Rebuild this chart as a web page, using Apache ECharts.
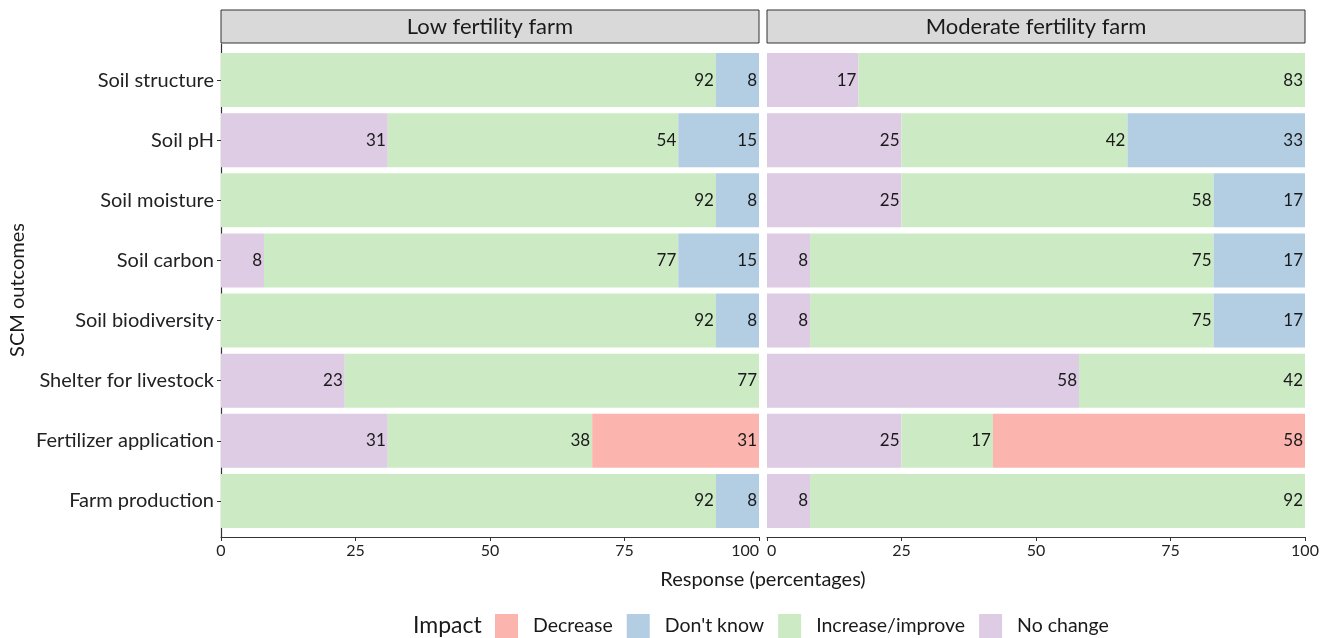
<!DOCTYPE html>
<html>
<head>
<meta charset="utf-8">
<script src="https://cdn.jsdelivr.net/npm/echarts@6/dist/echarts.min.js"></script>
<style>
html,body{margin:0;padding:0;background:#fff;}
#chart{width:1325px;height:638px;}
</style>
</head>
<body>
<div id="chart"></div>
<script>
const categories = ['Soil structure','Soil pH','Soil moisture','Soil carbon','Soil biodiversity','Shelter for livestock','Fertilizer application','Farm production'];
const panels = ['Low fertility farm','Moderate fertility farm'];
const xTicks = [0,25,50,75,100];
const legendOrder = ['Decrease',"Don't know",'Increase/improve','No change'];

// Low fertility farm
const lowNoChange = [0,31,0,8,0,23,31,0];
const lowIncrease = [92,54,92,77,92,77,38,92];
const lowDecrease = [0,0,0,0,0,0,31,0];
const lowDontKnow = [8,15,8,15,8,0,0,8];
// Moderate fertility farm
const modNoChange = [17,25,25,8,8,58,25,8];
const modIncrease = [83,42,58,75,75,42,17,92];
const modDecrease = [0,0,0,0,0,0,58,0];
const modDontKnow = [0,33,17,17,17,0,0,0];

const colors = {'Decrease':'#FBB4AE',"Don't know":'#B3CDE3','Increase/improve':'#CCEBC5','No change':'#DECBE4'};
const FONT = 'Lato';
const panelLeft = [221,767], panelW = 538;
const frameTop = 44, frameH = 493, barTop = 50, barH = 481;

const chart = echarts.init(document.getElementById('chart'));

const grids = [], xAxes = [], yAxes = [], series = [];
panels.forEach((p,i)=>{
  grids.push({left:panelLeft[i], top:barTop, width:panelW, height:barH});
  grids.push({left:panelLeft[i], top:frameTop, width:panelW, height:frameH});
  xAxes.push({gridIndex:2*i, type:'value', min:0, max:100, show:false});
  xAxes.push({gridIndex:2*i+1, type:'value', min:xTicks[0], max:xTicks[xTicks.length-1], interval:25,
    axisLine:{show:true, lineStyle:{color:'#333', width:1.2}},
    axisTick:{show:true, length:4, lineStyle:{color:'#333'}},
    axisLabel:{show:true, color:'#222', fontSize:16, fontFamily:FONT, margin:6, hideOverlap:false,
      showMinLabel:true, showMaxLabel:true,
      alignMinLabel: i===1 ? 'left' : 'center',
      alignMaxLabel: i===0 ? 'right' : 'center'},
    splitLine:{show:false}});
  yAxes.push({gridIndex:2*i, type:'category', data:categories, inverse:true,
    axisLine:{show:false},
    axisTick:{show:i===0, length:4, alignWithLabel:true, lineStyle:{color:'#333'}},
    axisLabel:{show:i===0, color:'#222', fontSize:20, fontFamily:FONT, margin:7}});
  yAxes.push({gridIndex:2*i+1, type:'value', min:0, max:1,
    axisLine:{show:i===0, lineStyle:{color:'#333', width:1.2}},
    axisTick:{show:false}, axisLabel:{show:false}, splitLine:{show:false}});
});

const panelData = [
  {'No change':lowNoChange,'Increase/improve':lowIncrease,'Decrease':lowDecrease,"Don't know":lowDontKnow},
  {'No change':modNoChange,'Increase/improve':modIncrease,'Decrease':modDecrease,"Don't know":modDontKnow}
];
const stackOrder = ['No change','Increase/improve','Decrease',"Don't know"];
panelData.forEach((d,i)=>{
  stackOrder.forEach(name=>{
    series.push({
      type:'bar', name:name, stack:'p'+i, xAxisIndex:2*i, yAxisIndex:2*i,
      data:d[name], barCategoryGap:'10%',
      itemStyle:{color:colors[name]},
      label:{show:true, position:'insideRight', distance:2, color:'#1a1a1a', fontSize:17, fontFamily:FONT,
        formatter:(pr)=> pr.value>0 ? String(pr.value) : ''},
      emphasis:{disabled:true}
    });
  });
});

const graphics = [];
panels.forEach((p,i)=>{
  graphics.push({type:'rect', shape:{x:panelLeft[i], y:10, width:panelW, height:33},
    style:{fill:'#D9D9D9', stroke:'#333', lineWidth:1}, silent:true});
  graphics.push({type:'text', x:panelLeft[i]+panelW/2, y:27,
    style:{text:p, fill:'#1a1a1a', fontSize:22, fontFamily:FONT, align:'center', verticalAlign:'middle'}});
});
graphics.push({type:'text', x:763, y:580, style:{text:'Response (percentages)', fill:'#1a1a1a', fontSize:20, fontFamily:FONT, align:'center', verticalAlign:'middle'}});
graphics.push({type:'text', x:18, y:290, rotation:Math.PI/2, style:{text:'SCM outcomes', fill:'#1a1a1a', fontSize:20, fontFamily:FONT, align:'center', verticalAlign:'middle'}});
graphics.push({type:'text', x:413, y:626, style:{text:'Impact', fill:'#1a1a1a', fontSize:23, fontFamily:FONT, align:'left', verticalAlign:'middle'}});

chart.setOption({
  animation:false,
  backgroundColor:'#fff',
  grid:grids, xAxis:xAxes, yAxis:yAxes, series:series,
  legend:{data:legendOrder, left:495, top:614, padding:0, itemWidth:23, itemHeight:24, itemGap:14, icon:'rect',
    textStyle:{fontSize:19.5, fontFamily:FONT, color:'#1a1a1a', padding:[0,0,0,10]}},
  graphic:graphics
});
</script>
</body>
</html>
